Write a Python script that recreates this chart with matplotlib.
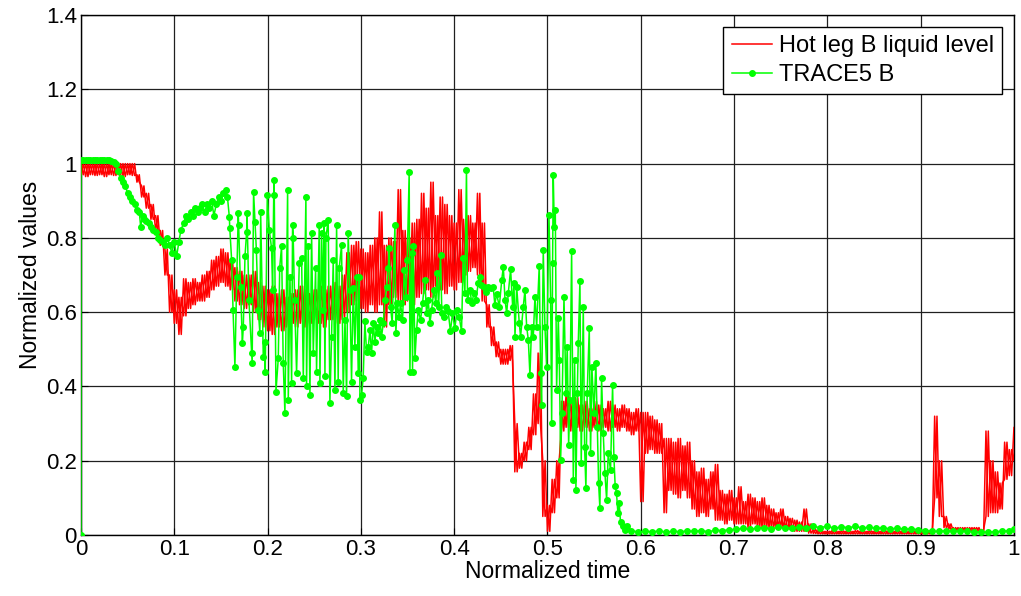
import numpy as np
import matplotlib
matplotlib.use("Agg")
import matplotlib.pyplot as plt

plt.rcParams['font.family'] = ['Liberation Sans', 'DejaVu Sans']

# red series: upper and lower envelope of the noisy signal, every 0.005 in time
red_t = np.round(np.arange(201) * 0.005, 4)
red_hi = [1.0, 1.0, 1.0, 1.0, 1.0, 1.0, 1.0, 1.0, 1.0, 1.0,
          1.0, 1.0, 0.97, 0.94, 0.92, 0.89, 0.86, 0.82, 0.77, 0.70,
          0.66, 0.64, 0.69, 0.68, 0.69, 0.68, 0.70, 0.71, 0.74, 0.75,
          0.77, 0.76, 0.74, 0.72, 0.71, 0.70, 0.70, 0.71, 0.68, 0.67,
          0.66, 0.67, 0.65, 0.66, 0.64, 0.65, 0.66, 0.67, 0.66, 0.65,
          0.66, 0.67, 0.66, 0.67, 0.68, 0.67, 0.70, 0.76, 0.78, 0.79,
          0.77, 0.76, 0.78, 0.80, 0.87, 0.78, 0.80, 0.79, 0.93, 0.82,
          0.80, 0.84, 0.85, 0.92, 0.88, 0.95, 0.86, 0.91, 0.89, 0.86,
          0.84, 0.93, 0.85, 0.86, 0.84, 0.92, 0.84, 0.62, 0.56, 0.52,
          0.50, 0.50, 0.51, 0.30, 0.22, 0.25, 0.29, 0.38, 0.49, 0.20,
          0.08, 0.15, 0.20, 0.36, 0.38, 0.36, 0.37, 0.35, 0.36, 0.34,
          0.36, 0.35, 0.34, 0.36, 0.35, 0.34, 0.35, 0.34, 0.33, 0.34,
          0.33, 0.33, 0.32, 0.31, 0.30, 0.26, 0.26, 0.25, 0.26, 0.24,
          0.25, 0.20, 0.17, 0.18, 0.15, 0.17, 0.19, 0.12, 0.11, 0.12,
          0.10, 0.13, 0.09, 0.11, 0.10, 0.09, 0.10, 0.08, 0.07, 0.06,
          0.07, 0.05, 0.045, 0.04, 0.035, 0.07, 0.03, 0.015, 0.012, 0.01,
          0.01, 0.012, 0.01, 0.011, 0.01, 0.01, 0.012, 0.01, 0.01, 0.011,
          0.01, 0.01, 0.012, 0.01, 0.01, 0.011, 0.01, 0.01, 0.012, 0.01,
          0.01, 0.01, 0.012, 0.32, 0.20, 0.05, 0.03, 0.02, 0.02, 0.02,
          0.02, 0.02, 0.02, 0.015, 0.28, 0.20, 0.17, 0.14, 0.25, 0.23,
          0.29]
red_lo = [0.97, 0.965, 0.97, 0.968, 0.97, 0.965, 0.97, 0.968, 0.97, 0.965,
          0.97, 0.968, 0.95, 0.91, 0.88, 0.85, 0.82, 0.78, 0.70, 0.60,
          0.57, 0.54, 0.59, 0.61, 0.62, 0.63, 0.63, 0.64, 0.66, 0.67,
          0.68, 0.67, 0.66, 0.63, 0.62, 0.61, 0.62, 0.60, 0.58, 0.56,
          0.55, 0.54, 0.56, 0.55, 0.56, 0.57, 0.56, 0.57, 0.56, 0.57,
          0.58, 0.57, 0.56, 0.58, 0.58, 0.57, 0.58, 0.60, 0.62, 0.63,
          0.61, 0.60, 0.62, 0.60, 0.62, 0.56, 0.62, 0.64, 0.63, 0.62,
          0.63, 0.62, 0.64, 0.65, 0.66, 0.64, 0.67, 0.66, 0.65, 0.67,
          0.66, 0.68, 0.70, 0.71, 0.72, 0.70, 0.63, 0.56, 0.51, 0.48,
          0.46, 0.46, 0.47, 0.17, 0.18, 0.20, 0.23, 0.27, 0.30, 0.05,
          0.01, 0.06, 0.10, 0.28, 0.29, 0.28, 0.29, 0.28, 0.29, 0.28,
          0.29, 0.28, 0.29, 0.28, 0.29, 0.28, 0.29, 0.28, 0.27, 0.28,
          0.09, 0.22, 0.23, 0.22, 0.22, 0.06, 0.12, 0.11, 0.10, 0.12,
          0.10, 0.07, 0.05, 0.06, 0.05, 0.07, 0.04, 0.04, 0.03, 0.04,
          0.03, 0.03, 0.03, 0.02, 0.03, 0.02, 0.02, 0.02, 0.02, 0.02,
          0.02, 0.015, 0.015, 0.01, 0.01, 0.01, 0.005, 0.004, 0.003, 0.003,
          0.003, 0.003, 0.003, 0.003, 0.003, 0.003, 0.003, 0.003, 0.003, 0.003,
          0.003, 0.003, 0.003, 0.003, 0.003, 0.003, 0.003, 0.003, 0.003, 0.003,
          0.003, 0.003, 0.003, 0.10, 0.05, 0.02, 0.015, 0.01, 0.01, 0.01,
          0.01, 0.01, 0.01, 0.005, 0.05, 0.06, 0.06, 0.07, 0.15, 0.16,
          0.20]

# green series (TRACE5 B)
green_t = [0.0, 0.0, 0.0025, 0.005, 0.0075, 0.01, 0.0125, 0.015, 0.0175, 0.02,
           0.0225, 0.025, 0.0275, 0.03, 0.0325, 0.035,
           0.0375, 0.04, 0.0425, 0.045, 0.0475, 0.05, 0.0525, 0.055, 0.0575, 0.06,
           0.0625, 0.064, 0.066, 0.068, 0.07, 0.0725, 0.075, 0.0775, 0.08, 0.0825,
           0.085, 0.0875, 0.09, 0.0925, 0.095, 0.0975, 0.1, 0.1025, 0.105,
           0.107, 0.11, 0.1125, 0.115, 0.1175, 0.12, 0.1225, 0.125, 0.1275, 0.13,
           0.1325, 0.135, 0.1375, 0.14, 0.1425, 0.145, 0.1475, 0.15, 0.1525, 0.155,
           0.157, 0.159, 0.1595, 0.1615, 0.163, 0.165, 0.167, 0.1686, 0.169, 0.171,
           0.173, 0.174, 0.1758, 0.1776, 0.178, 0.18, 0.183, 0.1835, 0.185, 0.1865,
           0.188, 0.19, 0.1918, 0.1926, 0.1954, 0.197, 0.1975, 0.1997, 0.2018, 0.2043,
           0.2054, 0.2068, 0.2072, 0.209, 0.2115, 0.213, 0.215, 0.2168, 0.2186, 0.2215,
           0.2222, 0.224, 0.2258, 0.2268, 0.2275, 0.229, 0.2311, 0.234, 0.2365, 0.2383,
           0.2411, 0.2418, 0.2436, 0.2454, 0.2472, 0.249, 0.2515, 0.2525, 0.2554, 0.2561,
           0.2579, 0.2597, 0.2604, 0.2615, 0.2625, 0.265, 0.2668, 0.2686, 0.2704, 0.2722,
           0.274, 0.2757, 0.2768, 0.2793, 0.2811, 0.283, 0.2847, 0.2864, 0.2882, 0.29,
           0.2918, 0.2936, 0.2954, 0.2972, 0.2982, 0.299, 0.3007, 0.3025, 0.3043, 0.3061,
           0.308, 0.3097, 0.3115, 0.3133, 0.315, 0.3168, 0.3186, 0.3204, 0.3222, 0.324,
           0.3258, 0.3276, 0.3293, 0.3304, 0.3318, 0.3336, 0.3365, 0.3375, 0.339, 0.3411,
           0.3425, 0.3447, 0.3465, 0.3483, 0.3497, 0.3518, 0.3526, 0.3543, 0.3554, 0.3561,
           0.358, 0.3597, 0.3615, 0.364, 0.3661, 0.3686, 0.3704, 0.3722, 0.374, 0.3758,
           0.3783, 0.3804, 0.3818, 0.3833, 0.3854, 0.3868, 0.389, 0.391, 0.3936, 0.396,
           0.3982, 0.4007, 0.4032, 0.4054, 0.4079, 0.4097, 0.4115, 0.4132, 0.4143, 0.4168,
           0.419, 0.4211, 0.4233, 0.4258, 0.4275, 0.4293, 0.4318, 0.434, 0.4364, 0.439,
           0.4418, 0.4436, 0.4455, 0.4484, 0.451, 0.4527, 0.4545, 0.4563, 0.458, 0.4605,
           0.4627, 0.4641, 0.4652, 0.467, 0.4698, 0.4712, 0.4741, 0.4759, 0.4777, 0.4795,
           0.4812, 0.483, 0.4848, 0.4866, 0.4884, 0.4912, 0.4927, 0.4937, 0.4955, 0.4973,
           0.4991, 0.5016, 0.5034, 0.5045, 0.5055, 0.5062, 0.5073, 0.5084, 0.5098, 0.5116,
           0.5127, 0.5141, 0.5155, 0.5177, 0.5198, 0.5212, 0.5227, 0.5241, 0.5259, 0.5277,
           0.5291, 0.5305, 0.532, 0.533, 0.5348, 0.5362, 0.5384, 0.5398, 0.5412, 0.5426,
           0.5448, 0.5462, 0.5476, 0.5498, 0.5519, 0.5534, 0.5548, 0.5562, 0.558, 0.5598,
           0.5616, 0.5634, 0.5651, 0.5676, 0.5698, 0.5712, 0.5726, 0.574, 0.5755, 0.5769,
           0.5783, 0.5805, 0.583, 0.5855,
           0.59, 0.5975, 0.605, 0.6125, 0.62, 0.6275, 0.635, 0.6425, 0.65, 0.6575,
           0.665, 0.6725, 0.68, 0.6875, 0.695, 0.7025, 0.71, 0.7175, 0.725, 0.7325,
           0.74, 0.7475, 0.755, 0.7625, 0.77, 0.7775, 0.785, 0.7925, 0.8, 0.8075,
           0.815, 0.8225, 0.83, 0.8375, 0.845, 0.8525, 0.86, 0.8675, 0.875, 0.8825,
           0.89, 0.8975, 0.905, 0.9125, 0.92, 0.9275, 0.935, 0.9425, 0.95, 0.9575,
           0.965, 0.9725, 0.98, 0.9875, 0.995, 1.0]
green_v = [0.0, 1.01, 1.01, 1.01, 1.01, 1.01, 1.01, 1.01, 1.01, 1.01,
           1.01, 1.01, 1.01, 1.01, 1.008, 1.005,
           1.0, 0.98, 0.96, 0.95, 0.94, 0.92, 0.91, 0.90, 0.89, 0.875,
           0.87, 0.83, 0.86, 0.85, 0.845, 0.84, 0.83, 0.82, 0.815, 0.80,
           0.795, 0.79, 0.78, 0.80, 0.78, 0.76, 0.79, 0.75, 0.79,
           0.82, 0.84, 0.86, 0.85, 0.87, 0.86, 0.88, 0.87, 0.88, 0.89,
           0.87, 0.89, 0.88, 0.90, 0.86, 0.89, 0.91, 0.90, 0.92, 0.93,
           0.91, 0.857, 0.826, 0.74, 0.606, 0.453, 0.696, 0.866, 0.835, 0.669,
           0.516, 0.561, 0.75, 0.817, 0.866, 0.633, 0.49, 0.463, 0.924, 0.844,
           0.767, 0.606, 0.543, 0.87, 0.48, 0.52, 0.44, 0.915, 0.822, 0.772,
           0.66, 0.956, 0.915, 0.386, 0.476, 0.72, 0.777, 0.463, 0.328, 0.929,
           0.364, 0.696, 0.409, 0.835, 0.799, 0.633, 0.436, 0.732, 0.745, 0.422,
           0.911, 0.40, 0.777, 0.377, 0.812, 0.49, 0.718, 0.44, 0.835, 0.409,
           0.812, 0.606, 0.839, 0.427, 0.799, 0.848, 0.355, 0.534, 0.741, 0.391,
           0.835, 0.413, 0.718, 0.781, 0.382, 0.58, 0.373, 0.812, 0.66, 0.413,
           0.664, 0.507, 0.696, 0.436, 0.696, 0.364, 0.377, 0.422, 0.575, 0.494,
           0.507, 0.552, 0.49, 0.57, 0.52, 0.561, 0.543, 0.579, 0.534, 0.57,
           0.633, 0.669, 0.718, 0.772, 0.615, 0.57, 0.835, 0.543, 0.624, 0.588,
           0.624, 0.579, 0.714, 0.642, 0.741, 0.978, 0.44, 0.758, 0.44, 0.777,
           0.476, 0.552, 0.606, 0.579, 0.624, 0.687, 0.597, 0.633, 0.57, 0.606,
           0.66, 0.624, 0.705, 0.615, 0.754, 0.597, 0.588, 0.615, 0.602, 0.548,
           0.597, 0.557, 0.606, 0.588, 0.548, 0.745, 0.651, 0.983, 0.633, 0.66,
           0.624, 0.651, 0.633, 0.678, 0.696, 0.673, 0.669, 0.655, 0.669, 0.664,
           0.669, 0.62, 0.65, 0.615, 0.687, 0.722, 0.633, 0.597, 0.651, 0.715,
           0.615, 0.678, 0.534, 0.669, 0.57, 0.534, 0.615, 0.66, 0.561, 0.525,
           0.431, 0.561, 0.534, 0.642, 0.561, 0.725, 0.436, 0.35, 0.767, 0.561,
           0.453, 0.862, 0.633, 0.301, 0.732, 0.969, 0.83, 0.875, 0.391, 0.584,
           0.471, 0.202, 0.328, 0.642, 0.382, 0.507, 0.243, 0.364, 0.766, 0.149,
           0.471, 0.122, 0.382, 0.516, 0.685, 0.193, 0.615, 0.238, 0.126, 0.382,
           0.557, 0.22, 0.453, 0.328, 0.463, 0.292, 0.14, 0.072, 0.422, 0.274,
           0.167, 0.095, 0.22, 0.175, 0.404, 0.211, 0.131, 0.113, 0.059, 0.086,
           0.036, 0.023, 0.014, 0.023,
           0.012, 0.008, 0.010, 0.009, 0.011, 0.008, 0.010, 0.009, 0.011, 0.010,
           0.012, 0.009, 0.013, 0.012, 0.014, 0.016, 0.018, 0.015, 0.019, 0.020,
           0.017, 0.021, 0.019, 0.018, 0.022, 0.020, 0.023, 0.020, 0.024, 0.018,
           0.022, 0.020, 0.023, 0.019, 0.021, 0.018, 0.020, 0.016, 0.019, 0.015,
           0.017, 0.014, 0.012, 0.010, 0.010, 0.012, 0.011, 0.010, 0.010, 0.009,
           0.008, 0.008, 0.009, 0.010, 0.012, 0.015]

xticks = [0, 0.1, 0.2, 0.3, 0.4, 0.5, 0.6, 0.7, 0.8, 0.9, 1]
xlabels = ['0', '0.1', '0.2', '0.3', '0.4', '0.5', '0.6', '0.7', '0.8', '0.9', '1']
yticks = [0, 0.2, 0.4, 0.6, 0.8, 1, 1.2, 1.4]
ylabels = ['0', '0.2', '0.4', '0.6', '0.8', '1', '1.2', '1.4']

fig = plt.figure(figsize=(10.21, 5.96), dpi=100)
ax = fig.add_axes([0.0793, 0.1023, 0.9138, 0.8725])

# dense noise: two crossed zigzags between the envelope values
n = len(red_t)
rx = np.empty(2 * n)
rx[0::2] = red_t
rx[1::2] = red_t + 0.0025
ya = np.empty(2 * n)
ya[0::2] = red_hi
ya[1::2] = red_lo
yb = np.empty(2 * n)
yb[0::2] = red_lo
yb[1::2] = red_hi
ax.plot(rx, ya, color='#ff0000', lw=1.1, label='Hot leg B liquid level', zorder=3)
ax.plot(rx, yb, color='#ff0000', lw=1.1, zorder=3)
ax.plot(green_t, green_v, color='#00ff00', lw=1.1, marker='.', markersize=8,
        label='TRACE5 B', zorder=4)

ax.set_xlim(0, 1)
ax.set_ylim(0, 1.4)
ax.set_xticks(xticks)
ax.set_xticklabels(xlabels)
ax.set_yticks(yticks)
ax.set_yticklabels(ylabels)
ax.grid(True, color='#202020', lw=0.9)
ax.set_axisbelow(True)
ax.tick_params(direction='in', labelsize=16, length=5)
ax.tick_params(axis='x', pad=3)
ax.tick_params(axis='y', pad=3)
for s in ax.spines.values():
    s.set_linewidth(1.0)

ax.set_xlabel('Normalized time', fontsize=16.5, labelpad=0)
ax.set_ylabel('Normalized values', fontsize=16.5, labelpad=3)

leg = ax.legend(loc='upper right', fontsize=17, fancybox=False, framealpha=1,
                edgecolor='black', handlelength=1.7, borderpad=0.35,
                labelspacing=0.3, handletextpad=0.3, borderaxespad=0.5)
leg.get_frame().set_linewidth(1.0)

fig.savefig('out.png', dpi=100)
